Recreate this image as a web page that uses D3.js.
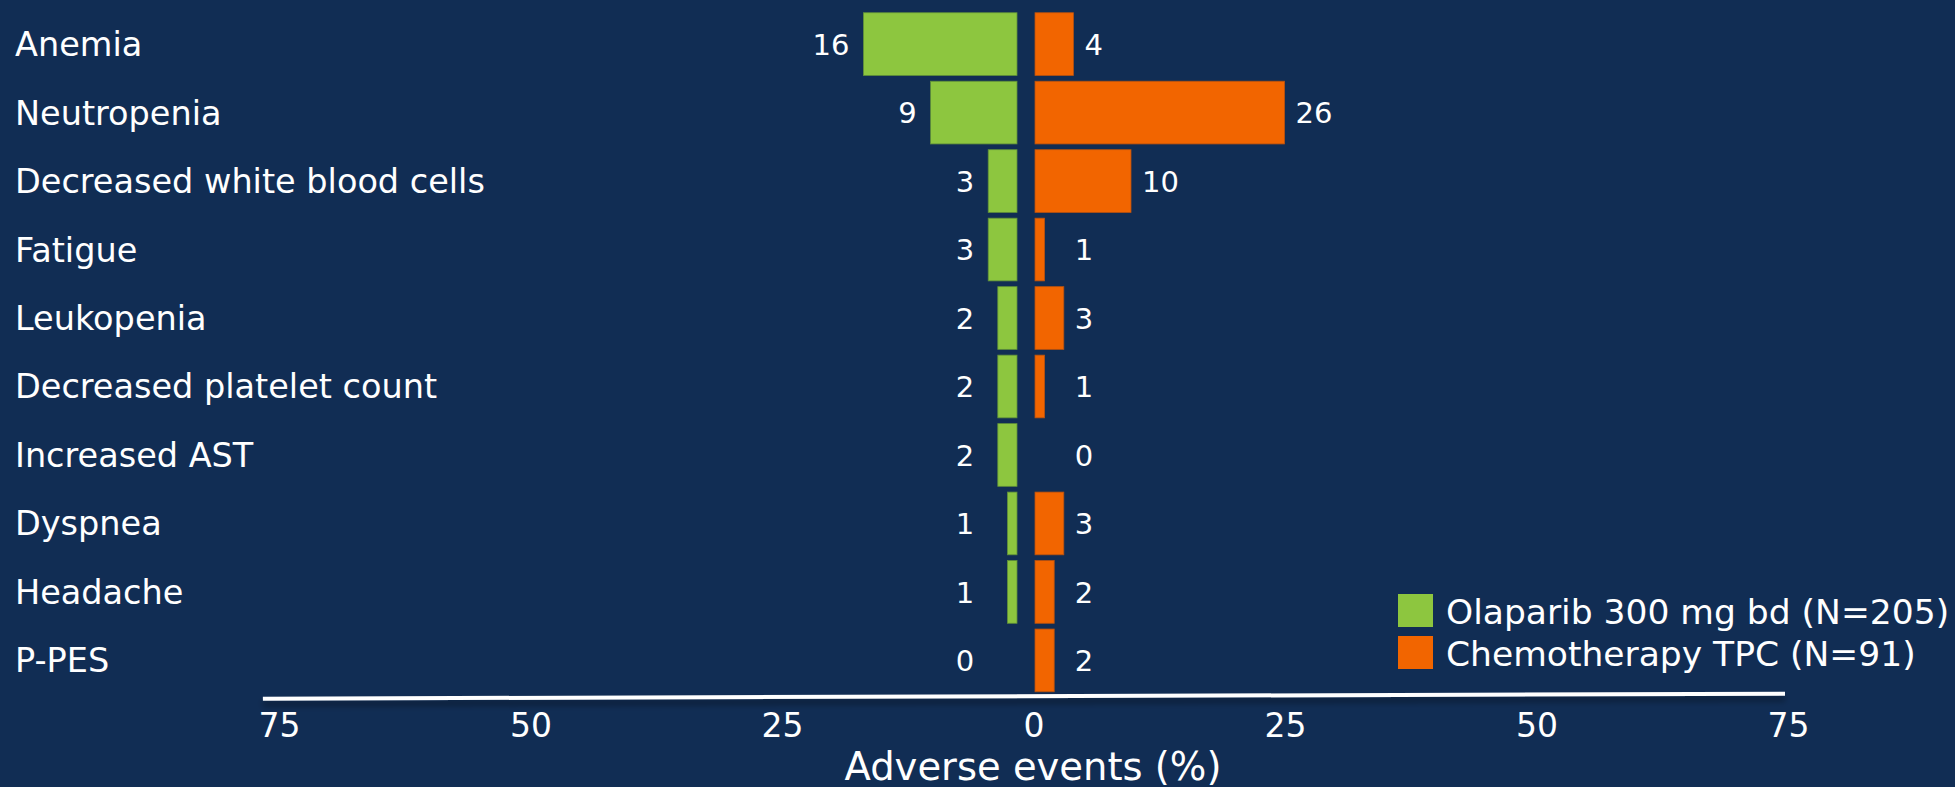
<!DOCTYPE html>
<html>
<head>
<meta charset="utf-8">
<script src="https://cdn.jsdelivr.net/npm/d3@7"></script>
<style>
  html, body { margin: 0; padding: 0; background: #112d54; }
  svg { display: block; }
  text { font-family: "DejaVu Sans", sans-serif; fill: #ffffff; }
</style>
</head>
<body>
<svg id="chart" width="1955" height="787"></svg>
<script>
// Grade ≥3 adverse events, % of patients per arm
const categories = [
  "Anemia", "Neutropenia", "Decreased white blood cells", "Fatigue",
  "Leukopenia", "Decreased platelet count", "Increased AST", "Dyspnea",
  "Headache", "P-PES"
];
const olaparib     = [16, 9, 3, 3, 2, 2, 2, 1, 1, 0];
const chemotherapy = [4, 26, 10, 1, 3, 1, 0, 3, 2, 2];
const seriesNames  = ["Olaparib 300 mg bd (N=205)", "Chemotherapy TPC (N=91)"];
const tickValues   = [-75, -50, -25, 0, 25, 50, 75];
const axisTitle    = "Adverse events (%)";

const colors = { green: "#8dc63f", orange: "#f26500", greenEdge: "#5f8f3a", orangeEdge: "#b8520f" };

const svg = d3.select("#chart");
const W = 1955, H = 787;

// Row bands
const y = d3.scaleBand().domain(categories).range([10, 694.5]).paddingInner(0.084).paddingOuter(0.04);

// Bars grow outward from a gap at the centre
const unit = 9.6;
const xLeft  = d3.scaleLinear().domain([0, 75]).range([1017, 1017 - 75 * unit]);
const xRight = d3.scaleLinear().domain([0, 75]).range([1035, 1035 + 75 * unit]);

// Axis scale for the tick labels under the chart
const xAxis = d3.scaleLinear().domain([-75, 75]).range([279, 1788]);

const defs = svg.append("defs");
const shadow = defs.append("filter").attr("id", "lineShadow")
  .attr("x", "-5%").attr("y", "-300%").attr("width", "110%").attr("height", "900%");
shadow.append("feGaussianBlur").attr("in", "SourceAlpha").attr("stdDeviation", 3).attr("result", "b");
shadow.append("feOffset").attr("in", "b").attr("dy", 5).attr("result", "o");
shadow.append("feComponentTransfer").attr("in", "o").attr("result", "s")
  .append("feFuncA").attr("type", "linear").attr("slope", 0.45);
const merge = shadow.append("feMerge");
merge.append("feMergeNode").attr("in", "s");
merge.append("feMergeNode").attr("in", "SourceGraphic");

// Category labels
svg.append("g").selectAll("text").data(categories).join("text")
  .attr("x", 15)
  .attr("y", d => y(d) + y.bandwidth() / 2 + 12)
  .attr("font-size", 33.5)
  .text(d => d);

// Olaparib bars (left)
svg.append("g").selectAll("rect").data(categories).join("rect")
  .attr("x", (d, i) => xLeft(olaparib[i]))
  .attr("y", d => y(d))
  .attr("width", (d, i) => xLeft(0) - xLeft(olaparib[i]))
  .attr("height", y.bandwidth())
  .attr("fill", colors.green)
  .attr("stroke", (d, i) => olaparib[i] > 0 ? colors.greenEdge : "none")
  .attr("stroke-width", 0.8);

// Chemotherapy bars (right)
svg.append("g").selectAll("rect").data(categories).join("rect")
  .attr("x", xRight(0))
  .attr("y", d => y(d))
  .attr("width", (d, i) => xRight(chemotherapy[i]) - xRight(0))
  .attr("height", y.bandwidth())
  .attr("fill", colors.orange)
  .attr("stroke", (d, i) => chemotherapy[i] > 0 ? colors.orangeEdge : "none")
  .attr("stroke-width", 0.8);

// Value labels
svg.append("g").selectAll("text").data(categories).join("text")
  .attr("x", (d, i) => xLeft(Math.max(olaparib[i], 3)) - 14)
  .attr("y", d => y(d) + y.bandwidth() / 2 + 10.6)
  .attr("text-anchor", "end")
  .attr("font-size", 29)
  .text((d, i) => olaparib[i]);

svg.append("g").selectAll("text").data(categories).join("text")
  .attr("x", (d, i) => xRight(Math.max(chemotherapy[i], 3)) + 11)
  .attr("y", d => y(d) + y.bandwidth() / 2 + 10.6)
  .attr("text-anchor", "start")
  .attr("font-size", 29)
  .text((d, i) => chemotherapy[i]);

// Axis baseline (white rule with a soft shadow)
svg.append("line")
  .attr("x1", xAxis(-76.6)).attr("y1", 698.7)
  .attr("x2", xAxis(74.7)).attr("y2", 693.7)
  .attr("stroke", "#ffffff").attr("stroke-width", 4)
  .attr("filter", "url(#lineShadow)");

// Tick labels, shown as absolute values
const axisG = svg.append("g").attr("transform", "translate(0,736.7)")
  .call(d3.axisBottom(xAxis).tickValues(tickValues).tickSize(0).tickPadding(0)
    .tickFormat(d => Math.abs(d)));
axisG.select(".domain").remove();
axisG.selectAll("text")
  .attr("dy", 0).attr("y", 0)
  .attr("font-family", "DejaVu Sans, sans-serif")
  .attr("font-size", 33).attr("fill", "#ffffff");

// Axis title
svg.append("text")
  .attr("x", 1033).attr("y", 779.5)
  .attr("text-anchor", "middle")
  .attr("font-size", 38.5)
  .text(axisTitle);

// Legend
const legend = svg.append("g").attr("transform", "translate(1398,594)");
const legendColors = [colors.green, colors.orange];
legend.selectAll("rect").data(seriesNames).join("rect")
  .attr("x", 0).attr("y", (d, i) => i * 42)
  .attr("width", 35).attr("height", 33)
  .attr("fill", (d, i) => legendColors[i]);
legend.selectAll("text").data(seriesNames).join("text")
  .attr("x", 48).attr("y", (d, i) => i * 42 + 30)
  .attr("font-size", 34.5)
  .text(d => d);
</script>
</body>
</html>
